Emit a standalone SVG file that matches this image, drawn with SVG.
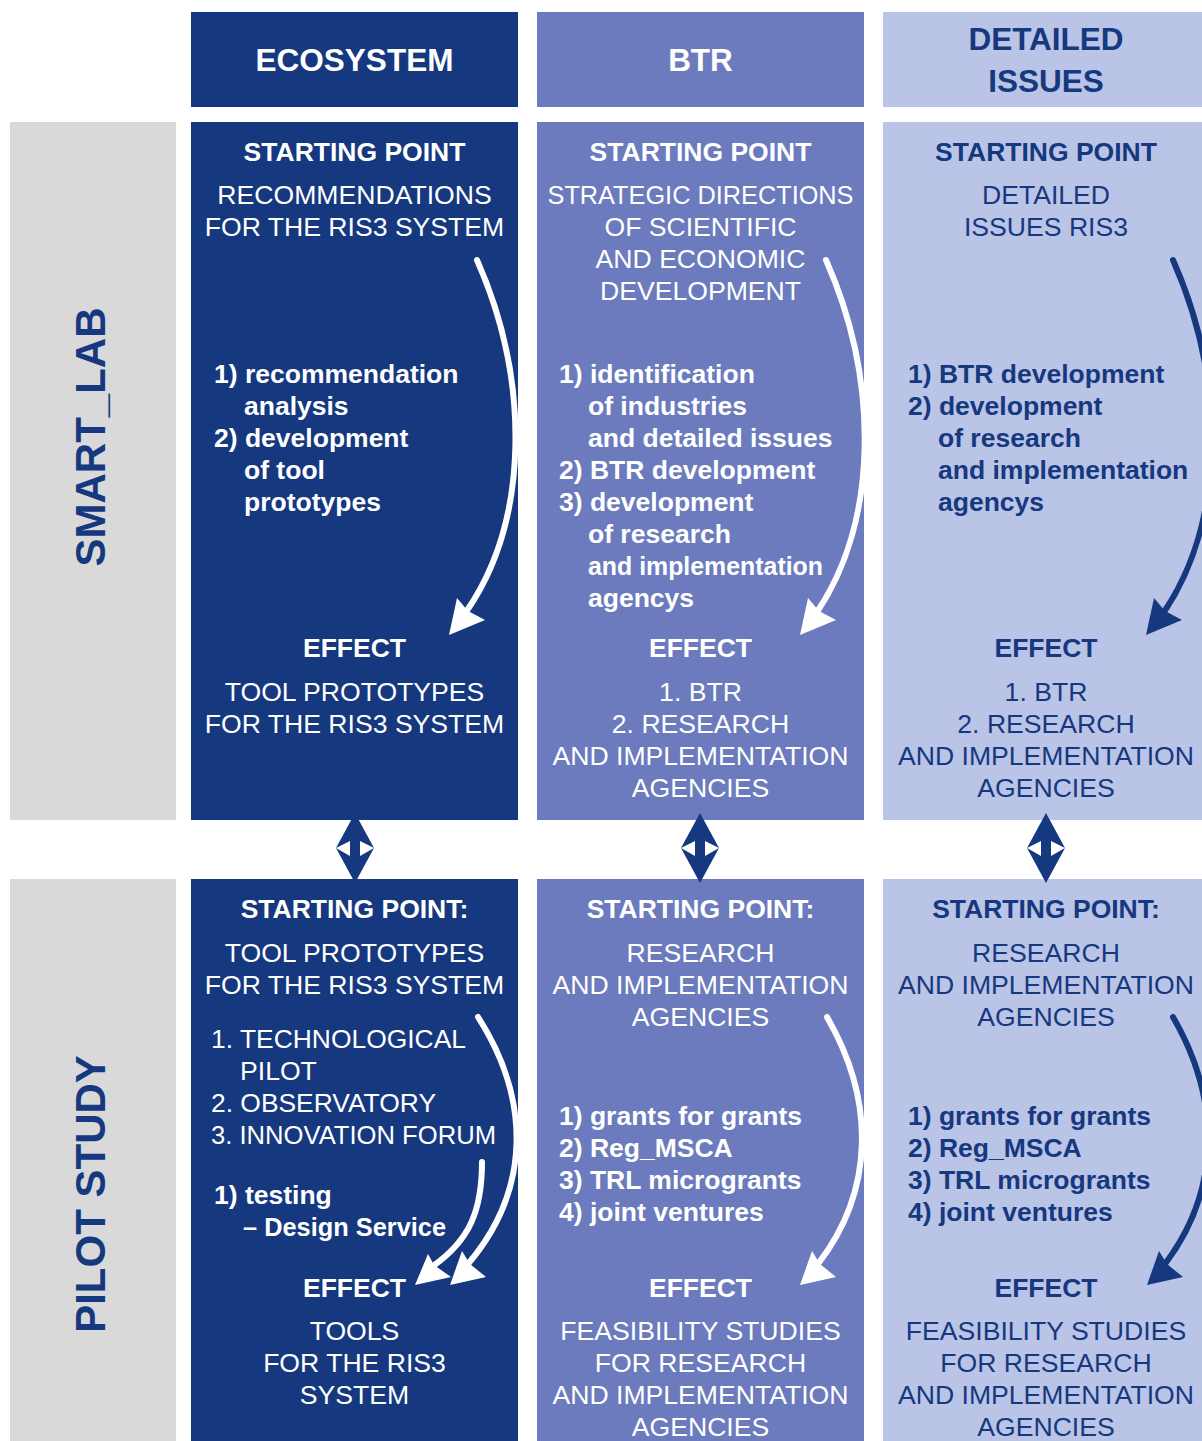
<svg xmlns="http://www.w3.org/2000/svg" width="1202" height="1441" viewBox="0 0 1202 1441">
<style>
text{font-family:"Liberation Sans",Arial,sans-serif}
.hd{font-size:31.5px;font-weight:bold;text-anchor:middle}
.b{font-size:26.5px;font-weight:bold}
.r{font-size:26.6px}
.c{text-anchor:middle}
.w{fill:#ffffff}
.d{fill:#15387f}
.lbl{font-size:42px;font-weight:bold;fill:#15387f;text-anchor:middle}
.dark{fill:#15387f}
.mid{fill:#6b7bbd}
.light{fill:#bac4e6}
.gray{fill:#d9d9d9}
.arcw{fill:none;stroke:#ffffff;stroke-width:6;stroke-linecap:round}
.arcd{fill:none;stroke:#15387f;stroke-width:6;stroke-linecap:round}
</style>
<rect width="1202" height="1441" fill="#ffffff"/>

<g id="hdr-ecosystem">
<rect class="dark" x="191" y="12" width="327" height="95"/>
<text class="hd w" x="354.5" y="71">ECOSYSTEM</text>
</g>
<g id="hdr-btr">
<rect class="mid" x="537" y="12" width="327" height="95"/>
<text class="hd w" x="700.5" y="71">BTR</text>
</g>
<g id="hdr-detailed">
<rect class="light" x="883" y="12" width="327" height="95"/>
<text class="hd d" x="1046" y="50">DETAILED</text>
<text class="hd d" x="1046" y="92">ISSUES</text>
</g>

<g id="row-smartlab">
<rect class="gray" x="10" y="122" width="166" height="698"/>
<text class="lbl" transform="translate(105,437) rotate(-90)">SMART_LAB</text>
</g>
<g id="row-pilot">
<rect class="gray" x="10" y="879" width="166" height="562"/>
<text class="lbl" transform="translate(105,1194) rotate(-90)">PILOT STUDY</text>
</g>

<g id="sl-ecosystem">
<rect class="dark" x="191" y="122" width="327" height="698"/>
<text class="b c w" x="354.5" y="161">STARTING POINT</text>
<text class="r c w" x="354.5" y="204">RECOMMENDATIONS</text>
<text class="r c w" x="354.5" y="236">FOR THE RIS3 SYSTEM</text>
<text class="b w" x="214" y="383">1) recommendation</text>
<text class="b w" x="244" y="415">analysis</text>
<text class="b w" x="214" y="447">2) development</text>
<text class="b w" x="244" y="479">of tool</text>
<text class="b w" x="244" y="511">prototypes</text>
<text class="b c w" x="354.5" y="657">EFFECT</text>
<text class="r c w" x="354.5" y="701">TOOL PROTOTYPES</text>
<text class="r c w" x="354.5" y="733">FOR THE RIS3 SYSTEM</text>
</g>

<g id="sl-btr">
<rect class="mid" x="537" y="122" width="327" height="698"/>
<text class="b c w" x="700.5" y="161">STARTING POINT</text>
<text class="r c w" x="700.5" y="204" textLength="306" lengthAdjust="spacingAndGlyphs">STRATEGIC DIRECTIONS</text>
<text class="r c w" x="700.5" y="236">OF SCIENTIFIC</text>
<text class="r c w" x="700.5" y="268">AND ECONOMIC</text>
<text class="r c w" x="700.5" y="300">DEVELOPMENT</text>
<text class="b w" x="559" y="383">1) identification</text>
<text class="b w" x="588" y="415">of industries</text>
<text class="b w" x="588" y="447">and detailed issues</text>
<text class="b w" x="559" y="479">2) BTR development</text>
<text class="b w" x="559" y="511">3) development</text>
<text class="b w" x="588" y="543">of research</text>
<text class="b w" x="588" y="575" textLength="235" lengthAdjust="spacingAndGlyphs">and implementation</text>
<text class="b w" x="588" y="607">agencys</text>
<text class="b c w" x="700.5" y="657">EFFECT</text>
<text class="r c w" x="700.5" y="701">1. BTR</text>
<text class="r c w" x="700.5" y="733">2. RESEARCH</text>
<text class="r c w" x="700.5" y="765">AND IMPLEMENTATION</text>
<text class="r c w" x="700.5" y="797">AGENCIES</text>
</g>

<g id="sl-detailed">
<rect class="light" x="883" y="122" width="327" height="698"/>
<text class="b c d" x="1046" y="161">STARTING POINT</text>
<text class="r c d" x="1046" y="204">DETAILED</text>
<text class="r c d" x="1046" y="236">ISSUES RIS3</text>
<text class="b d" x="908" y="383">1) BTR development</text>
<text class="b d" x="908" y="415">2) development</text>
<text class="b d" x="938" y="447">of research</text>
<text class="b d" x="938" y="479">and implementation</text>
<text class="b d" x="938" y="511">agencys</text>
<text class="b c d" x="1046" y="657">EFFECT</text>
<text class="r c d" x="1046" y="701">1. BTR</text>
<text class="r c d" x="1046" y="733">2. RESEARCH</text>
<text class="r c d" x="1046" y="765">AND IMPLEMENTATION</text>
<text class="r c d" x="1046" y="797">AGENCIES</text>
</g>

<g id="ps-ecosystem">
<rect class="dark" x="191" y="879" width="327" height="562"/>
<text class="b c w" x="354.5" y="918">STARTING POINT:</text>
<text class="r c w" x="354.5" y="962">TOOL PROTOTYPES</text>
<text class="r c w" x="354.5" y="994">FOR THE RIS3 SYSTEM</text>
<text class="r w" x="211" y="1048" textLength="255" lengthAdjust="spacingAndGlyphs">1. TECHNOLOGICAL</text>
<text class="r w" x="240" y="1080">PILOT</text>
<text class="r w" x="211" y="1112" textLength="225" lengthAdjust="spacingAndGlyphs">2. OBSERVATORY</text>
<text class="r w" x="211" y="1144" textLength="285" lengthAdjust="spacingAndGlyphs">3. INNOVATION FORUM</text>
<text class="b w" x="214" y="1204">1) testing</text>
<text class="b w" x="243" y="1236" textLength="203" lengthAdjust="spacingAndGlyphs">– Design Service</text>
<text class="b c w" x="354.5" y="1297">EFFECT</text>
<text class="r c w" x="354.5" y="1340">TOOLS</text>
<text class="r c w" x="354.5" y="1372">FOR THE RIS3</text>
<text class="r c w" x="354.5" y="1404">SYSTEM</text>
</g>

<g id="ps-btr">
<rect class="mid" x="537" y="879" width="327" height="562"/>
<text class="b c w" x="700.5" y="918">STARTING POINT:</text>
<text class="r c w" x="700.5" y="962">RESEARCH</text>
<text class="r c w" x="700.5" y="994">AND IMPLEMENTATION</text>
<text class="r c w" x="700.5" y="1026">AGENCIES</text>
<text class="b w" x="559" y="1125">1) grants for grants</text>
<text class="b w" x="559" y="1157">2) Reg_MSCA</text>
<text class="b w" x="559" y="1189">3) TRL microgrants</text>
<text class="b w" x="559" y="1221">4) joint ventures</text>
<text class="b c w" x="700.5" y="1297">EFFECT</text>
<text class="r c w" x="700.5" y="1340">FEASIBILITY STUDIES</text>
<text class="r c w" x="700.5" y="1372">FOR RESEARCH</text>
<text class="r c w" x="700.5" y="1404">AND IMPLEMENTATION</text>
<text class="r c w" x="700.5" y="1436">AGENCIES</text>
</g>

<g id="ps-detailed">
<rect class="light" x="883" y="879" width="327" height="562"/>
<text class="b c d" x="1046" y="918">STARTING POINT:</text>
<text class="r c d" x="1046" y="962">RESEARCH</text>
<text class="r c d" x="1046" y="994">AND IMPLEMENTATION</text>
<text class="r c d" x="1046" y="1026">AGENCIES</text>
<text class="b d" x="908" y="1125">1) grants for grants</text>
<text class="b d" x="908" y="1157">2) Reg_MSCA</text>
<text class="b d" x="908" y="1189">3) TRL microgrants</text>
<text class="b d" x="908" y="1221">4) joint ventures</text>
<text class="b c d" x="1046" y="1297">EFFECT</text>
<text class="r c d" x="1046" y="1340">FEASIBILITY STUDIES</text>
<text class="r c d" x="1046" y="1372">FOR RESEARCH</text>
<text class="r c d" x="1046" y="1404">AND IMPLEMENTATION</text>
<text class="r c d" x="1046" y="1436">AGENCIES</text>
</g>

<g id="connectors">
<defs>
<polygon id="dbl" points="0,-35 19,0 5,-7 5,8 19,0 0,35 -19,0 -5,8 -5,-7 -19,0"/>
</defs>
<use href="#dbl" x="355" y="848" fill="#15387f"/>
<use href="#dbl" x="700" y="848" fill="#15387f"/>
<use href="#dbl" x="1046" y="848" fill="#15387f"/>

<path class="arcw" d="M477,260 C530,380 530,520 466,612"/>
<polygon fill="#ffffff" points="449,635 457,598 468,611 485,620"/>
<path class="arcw" d="M826,260 C879,380 879,520 817,612"/>
<polygon fill="#ffffff" points="800,635 808,598 819,611 836,620"/>
<path class="arcd" d="M1173,260 C1226,380 1226,520 1164,612"/>
<polygon fill="#15387f" points="1146,635 1154,598 1165,611 1182,620"/>

<path class="arcw" d="M478,1017 C531,1100 531,1190 468,1264"/>
<polygon fill="#ffffff" points="450,1285 462,1251 470,1264 486,1277"/>
<path class="arcw" d="M482,1162 C482,1210 470,1240 433,1266"/>
<polygon fill="#ffffff" points="415,1285 428,1254 434,1265 451,1277"/>
<path class="arcw" d="M827,1017 C875,1100 875,1190 818,1264"/>
<polygon fill="#ffffff" points="800,1285 812,1251 820,1264 836,1277"/>
<path class="arcd" d="M1173,1017 C1221,1100 1221,1190 1165,1264"/>
<polygon fill="#15387f" points="1147,1285 1159,1251 1167,1264 1183,1277"/>
</g>
</svg>
